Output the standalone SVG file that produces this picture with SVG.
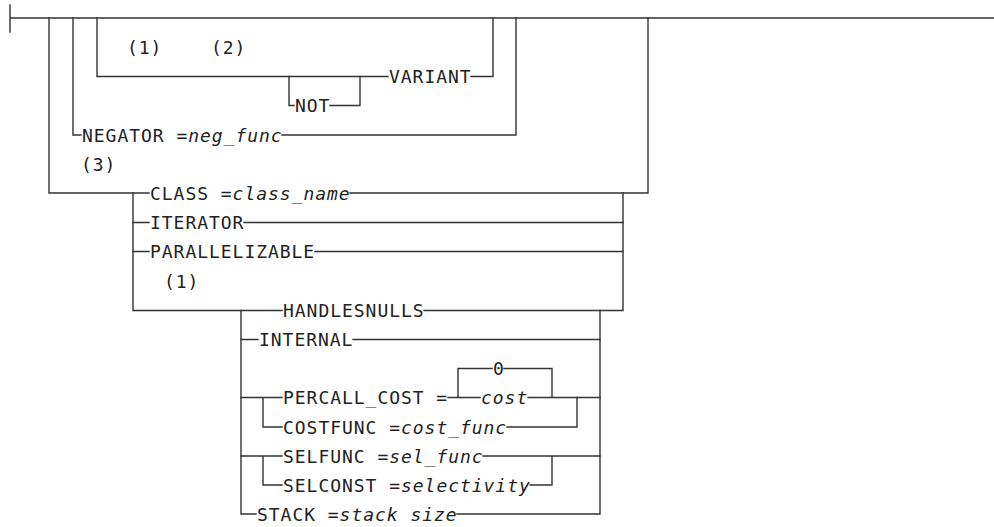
<svg xmlns="http://www.w3.org/2000/svg" width="994" height="527" viewBox="0 0 994 527">
<style>
.ln{fill:none;stroke:#333;stroke-width:1.4;stroke-linecap:square}
text{font-family:"DejaVu Sans Mono","Liberation Mono",monospace;font-size:18px;letter-spacing:0.96px;fill:#222}
.v{font-style:italic}
</style>
<rect width="994" height="527" fill="#fff"/>
<g id="connectors" class="ln">
<path d="M10,5V32M10,18H994"/>
<path d="M49,18V193H149"/>
<path d="M73,18V135H81"/>
<path d="M97,18V76.5H388"/>
<path d="M289,76.5V105.5H294M330,105.5H360V76.5"/>
<path d="M471,76.5H493V18"/>
<path d="M282,135H516V18"/>
<path d="M350,193H648V18"/>
<path d="M133,193V310.5H282"/>
<path d="M133,222.5H149M244,222.5H623"/>
<path d="M133,251.5H149M315,251.5H623"/>
<path d="M623,193V310.5M424,310.5H623"/>
<path d="M241,310.5V514H256M457,514H600V310.5"/>
<path d="M241,339.5H258M353,339.5H600"/>
<path d="M241,397.5H282M263,397.5V427H282M507,427H577V397.5"/>
<path d="M448,397.5H480M458,397.5V368.5H492M504,368.5H552V397.5M528,397.5H600"/>
<path d="M241,456H282M263,456V485H282M483,456H600M530,485H552V456"/>
</g>
<g id="note-1"><text x="127" y="53.5">(1)</text></g>
<g id="note-2"><text x="211" y="53.5">(2)</text></g>
<g id="variant"><text x="389" y="83">VARIANT</text></g>
<g id="not"><text x="295" y="112">NOT</text></g>
<g id="negator"><text x="82" y="141.5">NEGATOR =<tspan class="v">neg_func</tspan></text></g>
<g id="note-3"><text x="81" y="170.5">(3)</text></g>
<g id="class"><text x="150" y="199.5">CLASS =<tspan class="v">class_name</tspan></text></g>
<g id="iterator"><text x="150" y="229">ITERATOR</text></g>
<g id="parallelizable"><text x="150" y="258">PARALLELIZABLE</text></g>
<g id="note-1b"><text x="164" y="287.5">(1)</text></g>
<g id="handlesnulls"><text x="283" y="317">HANDLESNULLS</text></g>
<g id="internal"><text x="259" y="346">INTERNAL</text></g>
<g id="zero"><text x="493" y="375">0</text></g>
<g id="percall"><text x="283" y="404">PERCALL_COST =</text></g>
<g id="cost"><text x="481" y="404" class="v">cost</text></g>
<g id="costfunc"><text x="283" y="433.5">COSTFUNC =<tspan class="v">cost_func</tspan></text></g>
<g id="selfunc"><text x="283" y="462.5">SELFUNC =<tspan class="v">sel_func</tspan></text></g>
<g id="selconst"><text x="283" y="491.5">SELCONST =<tspan class="v">selectivity</tspan></text></g>
<g id="stack"><text x="257" y="520.5">STACK =<tspan class="v">stack size</tspan></text></g>
</svg>
